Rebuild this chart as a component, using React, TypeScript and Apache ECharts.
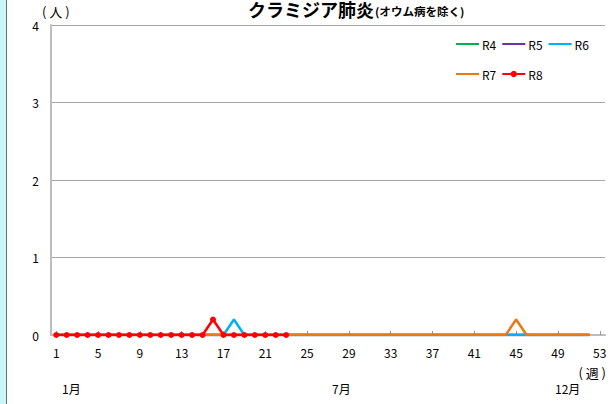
import React, { useEffect, useRef } from "react";
import * as echarts from "echarts";

const weeks: string[] = Array.from({ length: 53 }, (_, i) => String(i + 1));
const r4: number[] = [0,0,0,0,0,0,0,0,0,0,0,0,0,0,0,0,0,0,0,0,0,0,0,0,0,0,0,0,0,0,0,0,0,0,0,0,0,0,0,0,0,0,0,0,0,0,0,0,0,0,0,0];
const r5: number[] = [0,0,0,0,0,0,0,0,0,0,0,0,0,0,0,0,0,0,0,0,0,0,0,0,0,0,0,0,0,0,0,0,0,0,0,0,0,0,0,0,0,0,0,0,0,0,0,0,0,0,0,0];
const r6: number[] = [0,0,0,0,0,0,0,0,0,0,0,0,0,0,0,0,0,0.2,0,0,0,0,0,0,0,0,0,0,0,0,0,0,0,0,0,0,0,0,0,0,0,0,0,0,0,0,0,0,0,0,0,0];
const r7: number[] = [0,0,0,0,0,0,0,0,0,0,0,0,0,0,0,0,0,0,0,0,0,0,0,0,0,0,0,0,0,0,0,0,0,0,0,0,0,0,0,0,0,0,0,0,0.2,0,0,0,0,0,0,0];
const r8: number[] = [0,0,0,0,0,0,0,0,0,0,0,0,0,0,0,0.2,0,0,0,0,0,0,0];
const yTicks: number[] = [0, 1, 2, 3, 4];
const monthLabels: string[] = ["1月", "7月", "12月"];

const FONT = '"Noto Sans CJK JP", "Noto Sans", sans-serif';

export default function App() {
  const ref = useRef<HTMLDivElement>(null);
  useEffect(() => {
    document.body.style.margin = "0";
    const chart = echarts.init(ref.current!, null, { renderer: "svg" });
    const lineSeries = (name: string, data: number[], color: string, marker: boolean) => ({
      name,
      type: "line",
      data,
      symbol: marker ? "circle" : "none",
      symbolSize: 6,
      showSymbol: marker,
      lineStyle: { color, width: 2.5 },
      itemStyle: { color },
      z: 2,
    });
    const hidden = (name: string) => ({ name, itemStyle: { opacity: 0 } });
    const legendBase = {
      left: 455,
      padding: 0,
      itemWidth: 23,
      itemHeight: 8,
      itemGap: 5,
      textStyle: { fontSize: 12, color: "#000", fontFamily: FONT, padding: [0, 0, 0, -2] },
    };
    chart.setOption({
      animation: false,
      textStyle: { fontFamily: FONT },
      legend: [
        { ...legendBase, top: 38, data: [hidden("R4"), hidden("R5"), hidden("R6")] },
        { ...legendBase, top: 68, data: [hidden("R7"), "R8"] },
      ],
      grid: { left: 51, right: 7, top: 25, bottom: 69, containLabel: false },
      xAxis: {
        type: "category",
        data: weeks,
        boundaryGap: true,
        axisLine: { lineStyle: { color: "#bdbdbd", width: 2 } },
        axisTick: { show: true, inside: true, interval: 3, alignWithLabel: true, length: 4, lineStyle: { color: "#999" } },
        axisLabel: { interval: 3, fontSize: 12, color: "#000", margin: 11, fontFamily: FONT },
        splitLine: { show: false },
      },
      yAxis: {
        type: "value",
        min: yTicks[0],
        max: yTicks[yTicks.length - 1],
        interval: 1,
        axisLine: { show: true, lineStyle: { color: "#bdbdbd", width: 2 } },
        axisTick: { show: false },
        axisLabel: { fontSize: 12, color: "#000", margin: 12, fontFamily: FONT },
        splitLine: { lineStyle: { color: "#a6a6a6", width: 1 } },
      },
      graphic: [
        { type: "rect", shape: { x: 0, y: 0, width: 6, height: 404 }, style: { fill: "#c9f6f6" } },
        { type: "line", shape: { x1: 6.5, y1: 0, x2: 6.5, y2: 404 }, style: { stroke: "#6e6e6e", lineWidth: 1 } },
        {
          type: "text", x: 248, y: 0,
          style: { text: "クラミジア肺炎", fontSize: 18, fontWeight: "bold", fill: "#000", fontFamily: FONT, verticalAlign: "top" },
        },
        {
          type: "text", x: 375, y: 6, scaleX: 1.05,
          style: { text: "(オウム病を除く)", fontSize: 11, fontWeight: "bold", fill: "#000", fontFamily: FONT, verticalAlign: "top" },
        },
        { type: "text", x: 42, y: 5, style: { text: "( 人 )", fontSize: 13, fill: "#000", fontFamily: FONT, verticalAlign: "top" } },
        { type: "text", x: 606, y: 366, style: { text: "( 週 )", fontSize: 13, fill: "#000", fontFamily: FONT, align: "right", verticalAlign: "top" } },
        { type: "text", x: 62, y: 382, style: { text: monthLabels[0], fontSize: 12, fill: "#000", fontFamily: FONT, verticalAlign: "top" } },
        { type: "text", x: 332, y: 382, style: { text: monthLabels[1], fontSize: 12, fill: "#000", fontFamily: FONT, verticalAlign: "top" } },
        { type: "text", x: 555, y: 382, style: { text: monthLabels[2], fontSize: 12, fill: "#000", fontFamily: FONT, verticalAlign: "top" } },
      ],
      series: [
        lineSeries("R4", r4, "#00b050", false),
        lineSeries("R5", r5, "#7030a0", false),
        lineSeries("R6", r6, "#00b0f0", false),
        lineSeries("R7", r7, "#e97817", false),
        lineSeries("R8", r8, "#ff0000", true),
      ],
    });
    return () => chart.dispose();
  }, []);
  return <div ref={ref} style={{ width: 612, height: 404 }} />;
}
